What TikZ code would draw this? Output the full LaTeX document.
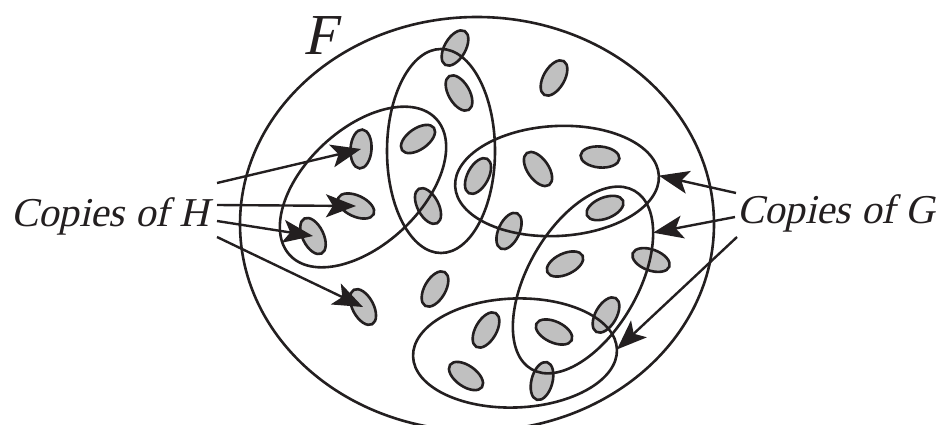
\documentclass[tikz,border=0pt]{standalone}
\usepackage{fontspec}
\setmainfont{Liberation Serif}
\newfontfamily\lblfont{Liberation Serif}[FakeSlant=0.22]
\usetikzlibrary{shapes.geometric,arrows.meta}
\definecolor{ink}{RGB}{35,31,32}
\definecolor{shade}{RGB}{192,192,192}
\begin{document}
\begin{tikzpicture}[x=1pt,y=-1pt,
  hcopy/.style={ellipse,draw=ink,fill=shade,line width=2.6pt,minimum width=39pt,minimum height=21pt,inner sep=0pt,outer sep=0pt},
  gcopy/.style={ellipse,draw=ink,line width=2.6pt,inner sep=0pt,outer sep=0pt},
  arr/.style={draw=ink,line width=2.4pt,-{Stealth[length=30pt,width=23pt,inset=7pt]}},
  lbl/.style={inner sep=0pt,outer sep=0pt,font=\lblfont\fontsize{41}{48}\selectfont,text=ink}]
\useasboundingbox (0,0) rectangle (941,425);
\clip (0,0) rectangle (941,425);
% copies of H (small grey ellipses)
\node[hcopy,rotate=60]  (h1)  at (455,48)  {};
\node[hcopy,rotate=-60] (h2)  at (459,93)  {};
\node[hcopy,rotate=60]  (h3)  at (554,78)  {};
\node[hcopy,rotate=35]  (h4)  at (418,139) {};
\node[hcopy,rotate=86]  (h5)  at (361,149) {};
\node[hcopy,rotate=-25] (h6)  at (356,206) {};
\node[hcopy,rotate=-64] (h7)  at (313,236) {};
\node[hcopy,rotate=-62] (h8)  at (363,307) {};
\node[hcopy,rotate=-62] (h9)  at (428,206) {};
\node[hcopy,rotate=60]  (h10) at (435,289) {};
\node[hcopy,rotate=62]  (h11) at (478,176) {};
\node[hcopy,rotate=-55] (h12) at (538,169) {};
\node[hcopy,rotate=-5]  (h13) at (600,157) {};
\node[hcopy,rotate=65]  (h14) at (509,231) {};
\node[hcopy,rotate=22]  (h15) at (605,208) {};
\node[hcopy,rotate=25]  (h16) at (565,264) {};
\node[hcopy,rotate=-20] (h17) at (651,260) {};
\node[hcopy,rotate=60]  (h18) at (606,315) {};
\node[hcopy,rotate=60]  (h19) at (486,330) {};
\node[hcopy,rotate=-25] (h20) at (554,332) {};
\node[hcopy,rotate=-35] (h21) at (466,376) {};
\node[hcopy,rotate=75]  (h22) at (542,381) {};
% copies of G (large outlines)
\node[gcopy,minimum width=200pt,minimum height=116pt,rotate=43] (g1) at (363,187) {};
\node[gcopy,minimum width=204pt,minimum height=108pt,rotate=90] (g2) at (441,151) {};
\node[gcopy,minimum width=204pt,minimum height=110pt,rotate=3]  (g3) at (557,181) {};
\node[gcopy,minimum width=206pt,minimum height=110pt,rotate=60] (g4) at (583,280) {};
\node[gcopy,minimum width=204pt,minimum height=109pt,rotate=2]  (g5) at (515,353) {};
% host graph F
\node[gcopy,minimum width=474pt,minimum height=414pt] (F) at (477,224) {};
% labels
\node[lbl,font=\lblfont\fontsize{58}{64}\selectfont,anchor=base] (lblF) at (320,55) {F};
\node[lbl,anchor=base west] (lblH) at (11,226) {Copies of H};
\node[lbl,anchor=base west] (lblG) at (737,223) {Copies of G};
% arrow start points beside the labels
\coordinate (hs1) at (217,183);
\coordinate (hs2) at (217,205);
\coordinate (hs3) at (217,221);
\coordinate (hs4) at (217,237);
\coordinate (gs1) at (736,193);
\coordinate (gs2) at (735,217);
\coordinate (gs3) at (737,237);
% arrows
\draw[arr] (hs1) -- (h5.center);
\draw[arr] (hs2) -- (h6.center);
\draw[arr] (hs3) -- (h7.center);
\draw[arr] (hs4) -- (h8.center);
\draw[arr] (gs1) -- (g3.east);
\draw[arr] (gs2) -- (g4.-26);
\draw[arr] (gs3) -- (g5.east);
\end{tikzpicture}
\end{document}
